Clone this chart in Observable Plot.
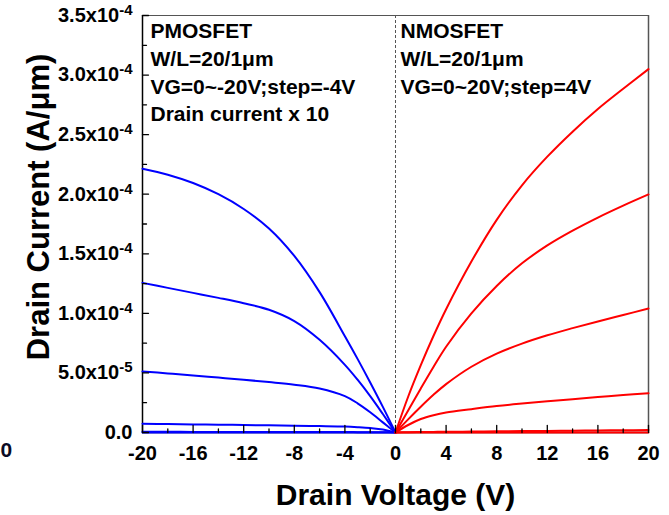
<!DOCTYPE html>
<html>
<head>
<meta charset="utf-8">
<script src="https://cdn.jsdelivr.net/npm/d3@7"></script>
<script src="https://cdn.jsdelivr.net/npm/@observablehq/plot@0.6"></script>
<style>
  body { margin: 0; background: #fff; }
  #chart svg { font-family: "Liberation Sans", Arial, sans-serif; font-weight: bold; }
</style>
</head>
<body>
<div id="chart"></div>
<script>
// Output characteristics (Id–Vd) of PMOS and NMOS thin-film transistors.
// PMOS currents are shown as |Id| x 10, plotted on the negative drain-voltage side.

// Drain voltage sweeps (V)
const vdPmos = [-20, -18, -16, -14, -12, -10, -8, -6, -4, -3, -2, -1, 0];
const vdNmos = [0, 1, 2, 3, 4, 6, 8, 10, 12, 14, 16, 18, 20];

// PMOS |Id| x 10 (units of 1e-4 A/um), one array per gate voltage
const pmosVg0   = [0, 0, 0, 0, 0, 0, 0, 0, 0, 0, 0, 0, 0];
const pmosVgM4  = [0.006, 0.006, 0.005, 0.005, 0.005, 0.005, 0.004, 0.004, 0.004, 0.003, 0.003, 0.002, 0];
const pmosVgM8  = [0.073, 0.071, 0.068, 0.066, 0.063, 0.060, 0.057, 0.054, 0.050, 0.045, 0.038, 0.026, 0];
const pmosVgM12 = [0.513, 0.496, 0.479, 0.461, 0.443, 0.423, 0.401, 0.369, 0.305, 0.245, 0.170, 0.085, 0];
const pmosVgM16 = [1.256, 1.214, 1.172, 1.130, 1.085, 1.030, 0.935, 0.778, 0.568, 0.443, 0.305, 0.155, 0];
const pmosVgM20 = [2.214, 2.164, 2.094, 2.000, 1.876, 1.712, 1.482, 1.178, 0.808, 0.618, 0.420, 0.215, 0];

// NMOS Id (units of 1e-4 A/um), one array per gate voltage
const nmosVg0  = [0, 0, 0, 0, 0, 0, 0, 0, 0, 0, 0, 0, 0];
const nmosVg4  = [0, 0.002, 0.004, 0.005, 0.006, 0.008, 0.010, 0.012, 0.013, 0.015, 0.017, 0.019, 0.021];
const nmosVg8  = [0, 0.063, 0.113, 0.145, 0.168, 0.196, 0.222, 0.243, 0.262, 0.280, 0.297, 0.314, 0.330];
const nmosVg12 = [0, 0.110, 0.216, 0.316, 0.406, 0.552, 0.662, 0.746, 0.816, 0.876, 0.932, 0.986, 1.040];
const nmosVg16 = [0, 0.185, 0.370, 0.550, 0.720, 1.000, 1.230, 1.420, 1.570, 1.694, 1.804, 1.904, 1.998];
const nmosVg20 = [0, 0.300, 0.565, 0.810, 1.035, 1.435, 1.785, 2.075, 2.315, 2.525, 2.715, 2.885, 3.050];

// Axis ticks and labels
const xDomain = [-20, 20];
const yDomain = [0, 3.5e-4];
const xTicks = [-20, -16, -12, -8, -4, 0, 4, 8, 12, 16, 20];
const xTickLabels = ["-20", "-16", "-12", "-8", "-4", "0", "4", "8", "12", "16", "20"];
const xMinorTicks = [-18, -14, -10, -6, -2, 2, 6, 10, 14, 18];
const yTicks = [0, 5e-5, 1e-4, 1.5e-4, 2e-4, 2.5e-4, 3e-4, 3.5e-4];
const yTickMantissa = ["0.0", "5.0x10", "1.0x10", "1.5x10", "2.0x10", "2.5x10", "3.0x10", "3.5x10"];
const yTickExponent = [null, "-5", "-4", "-4", "-4", "-4", "-4", "-4"];
const yMinorTicks = [2.5e-5, 7.5e-5, 1.25e-4, 1.75e-4, 2.25e-4, 2.75e-4, 3.25e-4];

const pmosText = ["PMOSFET", "W/L=20/1\u03bcm", "VG=0~-20V;step=-4V", "Drain current x 10"];
const nmosText = ["NMOSFET", "W/L=20/1\u03bcm", "VG=0~20V;step=4V"];
const xTitle = "Drain Voltage (V)";
const yTitle = "Drain Current (A/\u03bcm)";

// Long-format tables built from the arrays above
const toRows = (vd, curves) => curves.flatMap(([vg, ids]) =>
  ids.map((id, i) => ({vd: vd[i], id: id * 1e-4, vg})));

const pmosRows = toRows(vdPmos, [[0, pmosVg0], [-4, pmosVgM4], [-8, pmosVgM8],
  [-12, pmosVgM12], [-16, pmosVgM16], [-20, pmosVgM20]]);
const nmosRows = toRows(vdNmos, [[0, nmosVg0], [4, nmosVg4], [8, nmosVg8],
  [12, nmosVg12], [16, nmosVg16], [20, nmosVg20]]);

// Tick shape for vector marks: a plain segment pointing along the vector
const tickShape = {draw(context, l) { context.moveTo(0, 0); context.lineTo(0, -l); }};
const tickStyle = {shape: tickShape, anchor: "start", stroke: "black", strokeWidth: 1.3};

const chart = Plot.plot({
  width: 669,
  height: 515,
  marginLeft: 142,
  marginRight: 21,
  marginTop: 15,
  marginBottom: 83,
  style: {background: "white", color: "black", overflow: "visible"},
  x: {domain: xDomain},
  y: {domain: yDomain},
  marks: [
    // frame
    Plot.ruleX([xDomain[1]], {stroke: "#555", strokeWidth: 1.5}),
    Plot.ruleY([yDomain[1]], {stroke: "#555", strokeWidth: 1}),
    Plot.ruleX([xDomain[0]], {stroke: "black", strokeWidth: 1.5}),
    Plot.ruleY([0], {stroke: "black", strokeWidth: 1.5}),
    // Vd = 0 divider
    Plot.ruleX([0], {stroke: "#555", strokeWidth: 1, strokeDasharray: "3,2"}),
    // curves
    Plot.line(pmosRows, {x: "vd", y: "id", z: "vg", stroke: "#0000ff", strokeWidth: 2, curve: "catmull-rom"}),
    Plot.line(nmosRows, {x: "vd", y: "id", z: "vg", stroke: "#ff0000", strokeWidth: 2, curve: "catmull-rom"}),
    // inward ticks
    Plot.vector(xTicks, {x: (d) => d, y: () => yDomain[0], length: 7, rotate: 0, ...tickStyle}),
    Plot.vector(xMinorTicks, {x: (d) => d, y: () => yDomain[0], length: 3.5, rotate: 0, ...tickStyle}),
    Plot.vector(yTicks, {x: () => xDomain[0], y: (d) => d, length: 6, rotate: 90, ...tickStyle}),
    Plot.vector(yMinorTicks, {x: () => xDomain[0], y: (d) => d, length: 4, rotate: 90, ...tickStyle}),
    // tick labels
    Plot.axisX({ticks: xTicks, tickSize: 0, tickPadding: 13, fontSize: 20, label: null,
      tickFormat: (d) => xTickLabels[xTicks.indexOf(d)]}),
    Plot.axisY({ticks: yTicks, tickSize: 0, tickPadding: 10, fontSize: 20, label: null,
      tickFormat: (d) => yTickMantissa[yTicks.indexOf(d)]}),
    // axis titles
    Plot.text([xTitle], {frameAnchor: "bottom", lineAnchor: "bottom", dy: 72, fontSize: 30}),
    Plot.text([yTitle], {frameAnchor: "left", textAnchor: "middle", rotate: -90, lineAnchor: "bottom",
      dx: -94, dy: -17, fontSize: 31}),
    // device annotations
    Plot.text([pmosText.join("\n")], {x: () => xDomain[0], frameAnchor: "top", textAnchor: "start",
      lineAnchor: "top", dx: 8, dy: 3, lineHeight: 1.32, fontSize: 21}),
    Plot.text([nmosText.join("\n")], {x: () => 0, frameAnchor: "top", textAnchor: "start",
      lineAnchor: "top", dx: 5, dy: 3, lineHeight: 1.32, fontSize: 21}),
    // edge label at the lower left
    Plot.text(["0"], {frameAnchor: "bottom-left", textAnchor: "start", lineAnchor: "middle",
      dx: -142, dy: 18, fontSize: 21, fill: "#0b0b25"})
  ]
});

// Write the powers of ten as superscripts on the y tick labels
d3.select(chart).selectAll('g[aria-label="y-axis tick label"] text').each(function (_, j) {
  const exp = yTickExponent[j];
  if (exp) {
    d3.select(this).append("tspan")
      .attr("dy", "-7")
      .attr("font-size", "15")
      .text(exp);
  }
});

document.getElementById("chart").append(chart);
</script>
</body>
</html>
